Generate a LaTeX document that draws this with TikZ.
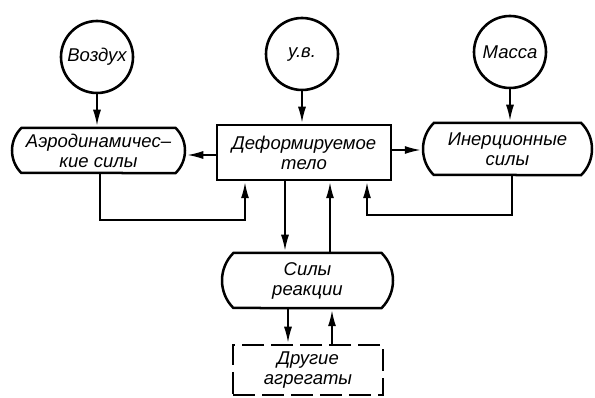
\documentclass[tikz,border=0pt]{standalone}
\usepackage{fontspec}
\setmainfont{Liberation Sans}
\usetikzlibrary{shapes.misc,arrows.meta}
\begin{document}
\begin{tikzpicture}[x=1pt,y=-1pt,
  every node/.style={font=\itshape\fontsize{18.5}{20}\selectfont, align=center, inner sep=0pt},
  src/.style={circle,draw,line width=2.6pt,minimum size=72pt},
  sbox/.style={rectangle,draw,line width=2.5pt},
  rbox/.style={rounded rectangle,rounded rectangle arc length=90,draw,line width=2.5pt},
  dbox/.style={rectangle,draw,line width=2.5pt,dash pattern=on 22pt off 7pt},
  arr/.style={line width=2.4pt,-{Latex[length=17pt,width=8pt]}}]
\useasboundingbox (0,0) rectangle (595,398);
\node[src] (air) at (97,57) {Воздух};
\node[src] (uv) at (302,54) {у.в.};
\node[src] (mass) at (510,52) {Масса};
\node[rbox,minimum width=173pt,minimum height=45pt] (aero) at (98.5,150.5) {Аэродинамичес–\\кие силы};
\node[sbox,minimum width=174pt,minimum height=55pt] (def) at (304,152.5) {Деформируемое\\тело};
\node[rbox,minimum width=169pt,minimum height=52pt] (iner) at (507.5,149) {Инерционные\\силы};
\node[rbox,minimum width=171pt,minimum height=55pt] (reac) at (307.5,280.5) {Силы\\реакции};
\node[dbox,minimum width=150pt,minimum height=50pt] (oth) at (308,370) {Другие\\агрегаты};
\coordinate (fa) at (245,220);
\coordinate (fi) at (367,215);
\draw[arr] (air.south) -- (air.south |- aero.north);
\draw[arr] (uv.south) -- (uv.south |- def.north);
\draw[arr] (mass.south) -- (mass.south |- iner.north);
\draw[arr] ([yshift=-2.5pt]def.west) -- ([yshift=-2.5pt]def.west -| aero.east);
\draw[arr] ([yshift=2.5pt]def.east) -- ([yshift=2.5pt]def.east -| iner.west);
\draw[arr] ([xshift=1.5pt]aero.south) |- (fa) -- (fa |- def.south);
\draw[arr] ([xshift=4.5pt]iner.south) |- (fi) -- (fi |- def.south);
\draw[arr] ([xshift=-19pt]def.south) -- ([xshift=-19pt]def.south |- reac.north);
\draw[arr] ([xshift=26pt]def.south |- reac.north) -- ([xshift=26pt]def.south);
\draw[arr] ([xshift=-19.5pt]reac.south) -- ([xshift=-19.5pt]reac.south |- oth.north);
\draw[arr] ([xshift=24.5pt]reac.south |- oth.north) -- ([xshift=24.5pt]reac.south);
\end{tikzpicture}
\end{document}
